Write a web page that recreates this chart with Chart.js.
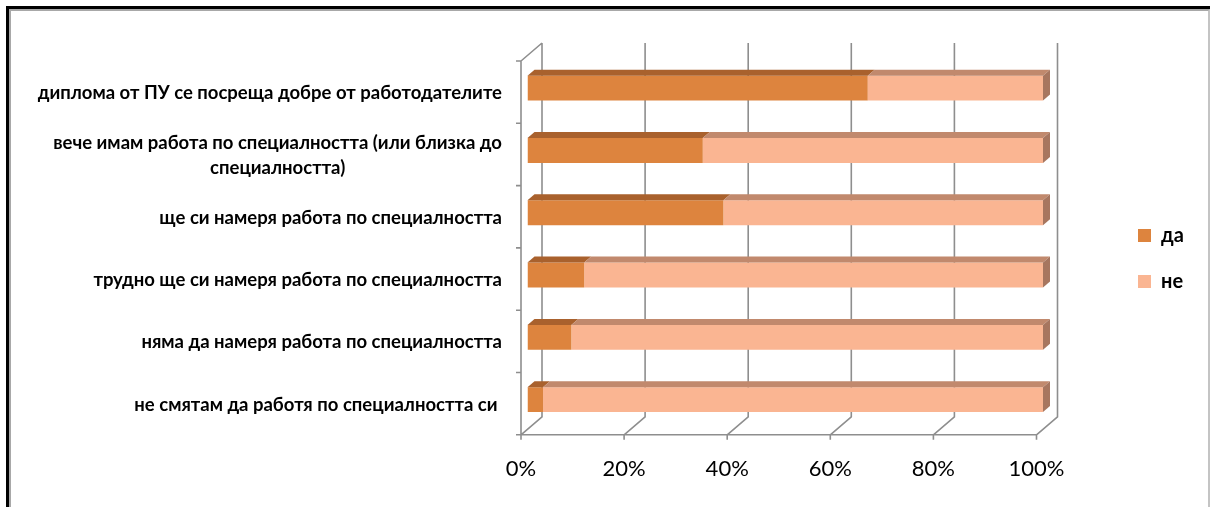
<!DOCTYPE html>
<html>
<head>
<meta charset="utf-8">
<script src="https://cdn.jsdelivr.net/npm/chart.js"></script>
<style>
    body { margin: 0; background: #fff; }
    #frame { position: absolute; left: 6px; top: 6px; width: 1204px; height: 501px; box-sizing: border-box; border-top: 3px solid #000; border-left: 3px solid #000; }
    #frame div { position: absolute; left: 0; top: 0; right: 0; bottom: 0; border-top: 2px solid #a8a8a8; border-left: 2px solid #a8a8a8; border-right: 2px solid #c4c4c4; }
    #statsChart { position: absolute; left: 0; top: 0; }
</style>
</head>
<body>
<div id="frame"><div></div></div>
<canvas id="statsChart" width="1210" height="507"></canvas>
<script>
const categories = [
    'диплома от ПУ се посреща добре от работодателите',
    ['вече имам работа по специалността (или близка до', 'специалността)'],
    'ще си намеря работа по специалността',
    'трудно ще си намеря работа по специалността',
    'няма да намеря работа по специалността',
    'не смятам да работя по специалността си '
];
const daValues = [66, 34, 38, 11, 8.5, 3];
const neValues = [34, 66, 62, 89, 91.5, 97];
const xTicks = [0, 20, 40, 60, 80, 100];

// псевдо-3D: смещения передней/задней стенки относительно плоскости столбцов
const FRONT = { x: -6.5, y: 4 };
const BACK = { x: 14.5, y: -14 };
const BAR_DEPTH = { x: 7, y: -6 };
const GRID_COLOR = '#8e8e8e';
const LABEL_RIGHT = 502;
const LABEL_LINE = 25;

function drawWalls(chart) {
    const { ctx, chartArea: a, scales: { x } } = chart;
    const fl = a.left + FRONT.x;
    const ft = a.top + FRONT.y;
    const fb = a.bottom + FRONT.y;
    const band = (a.bottom - a.top) / categories.length;

    ctx.save();
    ctx.strokeStyle = GRID_COLOR;
    ctx.lineWidth = 1.6;
    ctx.beginPath();
    ctx.moveTo(fl, ft);
    ctx.lineTo(fl, fb);
    ctx.moveTo(fl, ft);
    ctx.lineTo(a.left + BACK.x, a.top + BACK.y);
    for (let i = 0; i <= categories.length; i++) {
        const yy = a.top + band * i + FRONT.y;
        ctx.moveTo(fl - 5, yy);
        ctx.lineTo(fl, yy);
    }
    ctx.moveTo(fl, fb);
    ctx.lineTo(x.getPixelForValue(100) + FRONT.x, fb);
    xTicks.forEach(v => {
        const px = x.getPixelForValue(v);
        ctx.moveTo(px + FRONT.x, fb + 5);
        ctx.lineTo(px + FRONT.x, fb);
        ctx.lineTo(px + BACK.x, a.bottom + BACK.y);
        ctx.lineTo(px + BACK.x, a.top + BACK.y);
    });
    ctx.stroke();
    ctx.restore();
}

function drawBarFaces(chart) {
    const ctx = chart.ctx;
    const last = chart.data.datasets.length - 1;
    ctx.save();
    chart.data.datasets.forEach((ds, di) => {
        const meta = chart.getDatasetMeta(di);
        meta.data.forEach(bar => {
            const { x, y, base, height } = bar.getProps(['x', 'y', 'base', 'height'], true);
            const l = Math.min(x, base);
            const r = Math.max(x, base);
            const t = y - height / 2;
            const b = y + height / 2;

            ctx.fillStyle = ds.topColor;
            ctx.beginPath();
            ctx.moveTo(l, t);
            ctx.lineTo(r, t);
            ctx.lineTo(r + BAR_DEPTH.x, t + BAR_DEPTH.y);
            ctx.lineTo(l + BAR_DEPTH.x, t + BAR_DEPTH.y);
            ctx.closePath();
            ctx.fill();

            if (di === last) {
                ctx.fillStyle = ds.sideColor;
                ctx.beginPath();
                ctx.moveTo(r, t);
                ctx.lineTo(r + BAR_DEPTH.x, t + BAR_DEPTH.y);
                ctx.lineTo(r + BAR_DEPTH.x, b + BAR_DEPTH.y);
                ctx.lineTo(r, b);
                ctx.closePath();
                ctx.fill();
            }
        });
    });
    ctx.restore();
}

function drawCategoryLabels(chart) {
    const { ctx, scales: { y } } = chart;
    ctx.save();
    ctx.font = 'bold 18.5px Lato';
    ctx.fillStyle = '#000';
    ctx.textAlign = 'center';
    ctx.textBaseline = 'middle';
    categories.forEach((label, i) => {
        const lines = Array.isArray(label) ? label : [label];
        const w = Math.max(...lines.map(s => ctx.measureText(s).width));
        const cx = LABEL_RIGHT - w / 2;
        const cy = y.getPixelForTick(i) + FRONT.y + 1;
        lines.forEach((s, j) => {
            ctx.fillText(s, cx, cy + (j - (lines.length - 1) / 2) * LABEL_LINE);
        });
    });
    ctx.restore();
}

const threeD = {
    id: 'threeD',
    beforeDatasetsDraw: drawWalls,
    afterDatasetsDraw: drawBarFaces,
    afterDraw: drawCategoryLabels
};

const ctx = document.getElementById('statsChart').getContext('2d');
const chart = new Chart(ctx, {
    type: 'bar',
    data: {
        labels: categories,
        datasets: [
            { label: 'да', data: daValues, backgroundColor: '#DD843E', topColor: '#A9612D', sideColor: '#9A5A2C' },
            { label: 'не', data: neValues, backgroundColor: '#FAB592', topColor: '#C1896D', sideColor: '#A7765F' }
        ]
    },
    options: {
        indexAxis: 'y',
        responsive: false,
        animation: false,
        layout: { padding: { left: 527.5, top: 57, right: 18, bottom: 0 } },
        datasets: { bar: { barPercentage: 0.4, categoryPercentage: 1, borderWidth: 0 } },
        scales: {
            x: {
                stacked: true,
                min: 0,
                max: 100,
                grid: { display: false, drawTicks: false },
                border: { display: false },
                afterBuildTicks: s => { s.ticks = xTicks.map(v => ({ value: v })); },
                ticks: {
                    padding: 24.9,
                    labelOffset: -6.5,
                    color: '#000',
                    autoSkip: false,
                    maxRotation: 0,
                    font: { family: 'Lato', size: 22 },
                    callback: v => v + '%'
                }
            },
            y: { stacked: true, display: false },
            spacer: {
                axis: 'y',
                type: 'category',
                position: 'right',
                grid: { display: false, drawTicks: false },
                border: { display: false },
                ticks: { display: false },
                afterFit: s => { s.width = 69; }
            }
        },
        plugins: {
            legend: {
                position: 'right',
                fullSize: false,
                maxWidth: 80,
                title: { display: true, text: '', padding: { top: 15, bottom: 0 }, font: { size: 12 } },
                labels: {
                    boxWidth: 13,
                    boxHeight: 13,
                    padding: 26,
                    color: '#000',
                    font: { family: 'Lato', size: 20, weight: 'bold' }
                }
            },
            tooltip: { enabled: false }
        }
    },
    plugins: [threeD]
});
</script>
</body>
</html>
